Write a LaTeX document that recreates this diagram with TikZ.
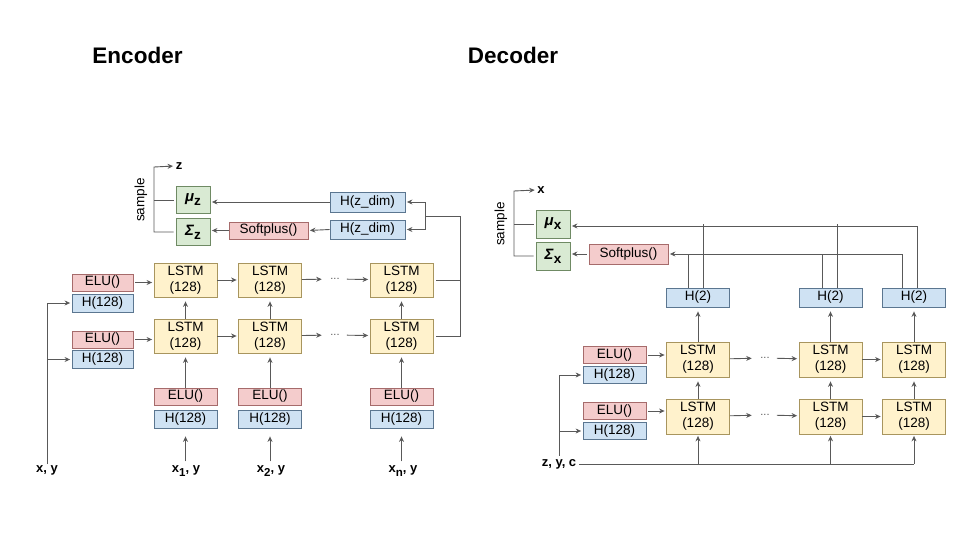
\documentclass[tikz,border=0pt]{standalone}
\usepackage{fontspec}
\setmainfont{Liberation Sans}
\usetikzlibrary{arrows.meta}
\usetikzlibrary{calc}

\definecolor{eluFill}{HTML}{F4CCCC}
\definecolor{eluLine}{HTML}{A66B6B}
\definecolor{hidFill}{HTML}{CFE2F3}
\definecolor{hidLine}{HTML}{5B7690}
\definecolor{lstmFill}{HTML}{FFF2CC}
\definecolor{lstmLine}{HTML}{A8955E}
\definecolor{gaussFill}{HTML}{D9EAD3}
\definecolor{gaussLine}{HTML}{6F8A64}
\definecolor{wireGray}{HTML}{595959}

\tikzset{
    box/.style={draw, line width=0.8pt, inner sep=0pt, align=center,
        font=\fontsize{13.5}{16}\selectfont},
    elu/.style={box, fill=eluFill, draw=eluLine, minimum height=17pt},
    hid/.style={box, fill=hidFill, draw=hidLine, minimum height=18pt},
    lstm/.style={box, fill=lstmFill, draw=lstmLine, minimum width=63pt, minimum height=34pt},
    gauss/.style={box, fill=gaussFill, draw=gaussLine, minimum width=34pt, minimum height=27pt},
    wire/.style={draw=wireGray, line width=0.9pt},
    arr/.style={wire, -{Stealth[length=5.5pt,width=5pt]}, shorten >=1.5pt},
    lbl/.style={inner sep=1pt, font=\fontsize{13}{15}\selectfont\bfseries},
    dotsnode/.style={inner xsep=7pt, text=wireGray, font=\fontsize{11}{12}\selectfont},
    title/.style={font=\fontsize{22.5}{26}\selectfont\bfseries},
    smp/.style={rotate=90, font=\fontsize{13.5}{15}\selectfont}
}

\newcommand{\gsym}[2]{{\fontsize{15}{16}\selectfont\textbf{\textit{#1}}}\raisebox{-4pt}{\textbf{#2}}}
\newcommand{\xsub}[1]{\raisebox{-4pt}{\fontsize{11.5}{12}\selectfont #1}}

\begin{document}
\begin{tikzpicture}[x=1pt,y=-1pt]
            \useasboundingbox[fill=white] (0,0) rectangle (960,540);

            \node[title] (enc) at (137.5,55) {Encoder};
            \node[title] (dec) at (513,55) {Decoder};

            \node[gauss] (muz) at (193,200) {\gsym{μ}{z}};
            \node[gauss] (sigz) at (193,232) {\gsym{Σ}{z}};
            \node[elu, minimum width=79pt] (spz) at (268.5,230.5) {Softplus()};
            \node[hid, minimum width=75pt, minimum height=20pt] (hz1) at (367.5,202) {H(z\_dim)};
            \node[hid, minimum width=75pt, minimum height=19pt] (hz2) at (367.5,229.5) {H(z\_dim)};
            \node[lbl] (zlab) at (179,166) {z};
            \node[smp] (smpe) at (141,200) {sample};
            \coordinate (brz) at (154,167);

            \node[elu, minimum width=61pt] (eelu1) at (102.5,282.5) {ELU()};
            \node[hid, minimum width=61pt] (eh1) at (102.5,303) {H(128)};
            \node[elu, minimum width=61pt] (eelu2) at (102.5,339.5) {ELU()};
            \node[hid, minimum width=61pt] (eh2) at (102.5,359.5) {H(128)};

            \node[lstm] (e11) at (185.5,280) {LSTM\\(128)};
            \node[lstm] (e12) at (270,280) {LSTM\\(128)};
            \node[dotsnode] (edt1) at (335,279) {...};
            \node[lstm] (e13) at (401.5,280) {LSTM\\(128)};
            \node[lstm] (e21) at (185.5,336) {LSTM\\(128)};
            \node[lstm] (e22) at (270,336) {LSTM\\(128)};
            \node[dotsnode] (edt2) at (335,335) {...};
            \node[lstm] (e23) at (401.5,336) {LSTM\\(128)};

            \node[elu, minimum width=63pt] (ein1) at (185.5,396.5) {ELU()};
            \node[hid, minimum width=63pt] (eh31) at (185.5,419) {H(128)};
            \node[elu, minimum width=63pt] (ein2) at (270,396.5) {ELU()};
            \node[hid, minimum width=63pt] (eh32) at (270,419) {H(128)};
            \node[elu, minimum width=63pt] (ein3) at (401.5,396.5) {ELU()};
            \node[hid, minimum width=63pt] (eh33) at (401.5,419) {H(128)};

            \node[lbl] (xy) at (47,470) {x, y};
            \node[lbl] (x1) at (186,471) {x\xsub{1}, y};
            \node[lbl] (x2) at (271,471) {x\xsub{2}, y};
            \node[lbl] (xn) at (403,471) {x\xsub{n}, y};

            \coordinate (fbe) at (460,216);
            \coordinate (sple) at (425,216);

            \draw[wire, shorten <=2pt] (muz.west) -- (muz.west -| brz);
            \draw[arr, shorten <=2pt] (sigz.west) -| (brz) -- (zlab.west);
            \draw[arr] (hz1.west) -- (hz1.west -| muz.east);
            \draw[arr] (hz2.west) -- (spz.east);
            \draw[arr] (spz.west) -- (spz.west -| sigz.east);
            \draw[wire, shorten <=3pt] (e13.east) -- (e13.east -| fbe);
            \draw[wire, shorten <=3pt] (e23.east) -| (fbe) -- (sple);
            \draw[arr] (sple) |- (hz1.east);
            \draw[arr] (sple) |- (hz2.east);

            \draw[arr, shorten <=2pt] (eelu1.east) -- (eelu1.east -| e11.west);
            \draw[arr, shorten <=2pt] (eelu2.east) -- (eelu2.east -| e21.west);
            \draw[arr] (xy.north) |- (eh1.west);
            \draw[arr] (xy.north |- eh2.west) -- (eh2.west);

            \draw[arr] (e11) -- (e12);
            \draw[arr] (e12) -- (edt1);
            \draw[arr] (edt1) -- (e13);
            \draw[arr] (e21) -- (e22);
            \draw[arr] (e22) -- (edt2);
            \draw[arr] (edt2) -- (e23);
            \draw[arr, shorten >=4pt] (e21) -- (e11);
            \draw[arr, shorten >=4pt] (e22) -- (e12);
            \draw[arr, shorten >=4pt] (e23) -- (e13);
            \draw[arr, shorten >=4pt] (ein1) -- (e21);
            \draw[arr, shorten >=4pt] (ein2) -- (e22);
            \draw[arr, shorten >=4pt] (ein3) -- (e23);
            \draw[arr, shorten >=8pt, shorten <=3pt] (x1.north -| eh31) -- (eh31.south);
            \draw[arr, shorten >=8pt, shorten <=3pt] (x2.north -| eh32) -- (eh32.south);
            \draw[arr, shorten >=8pt, shorten <=3pt] (xn.north -| eh33) -- (eh33.south);

            \node[gauss, minimum height=28pt] (mux) at (553,224) {\gsym{μ}{x}};
            \node[gauss, minimum height=28pt] (sigx) at (553,256) {\gsym{Σ}{x}};
            \node[elu, minimum width=79pt, minimum height=20pt] (spx) at (628.5,254) {Softplus()};
            \node[lbl] (xlab) at (541,190) {x};
            \node[smp] (smpd) at (501,224) {sample};
            \coordinate (brx) at (514,191);

            \node[hid, minimum width=63pt, minimum height=19pt] (dh21) at (698,297.5) {H(2)};
            \node[hid, minimum width=63pt, minimum height=19pt] (dh22) at (830.5,297.5) {H(2)};
            \node[hid, minimum width=63pt, minimum height=19pt] (dh23) at (914,297.5) {H(2)};

            \node[elu, minimum width=63pt] (delu1) at (614.5,355) {ELU()};
            \node[hid, minimum width=63pt, minimum height=17pt] (dh1) at (614.5,375) {H(128)};
            \node[elu, minimum width=63pt] (delu2) at (614.5,411) {ELU()};
            \node[hid, minimum width=63pt, minimum height=17pt] (dh2) at (614.5,431) {H(128)};

            \node[lstm, minimum height=35pt] (d11) at (698,359.5) {LSTM\\(128)};
            \node[dotsnode] (ddt1) at (765,358) {...};
            \node[lstm, minimum height=35pt] (d12) at (830.5,359.5) {LSTM\\(128)};
            \node[lstm, minimum height=35pt] (d13) at (914,359.5) {LSTM\\(128)};
            \node[lstm, minimum height=35pt] (d21) at (698,416.5) {LSTM\\(128)};
            \node[dotsnode] (ddt2) at (765,415) {...};
            \node[lstm, minimum height=35pt] (d22) at (830.5,416.5) {LSTM\\(128)};
            \node[lstm, minimum height=35pt] (d23) at (914,416.5) {LSTM\\(128)};

            \node[lbl] (zyc) at (559,464) {z, y, c};

            \draw[wire, shorten <=2pt] (mux.west) -- (mux.west -| brx);
            \draw[arr, shorten <=2pt] (sigx.west) -| (brx) -- (xlab.west);
            \draw[arr, shorten <=2pt] (spx.west) -- (spx.west -| sigx.east);
            \draw[arr] ([xshift=3pt]dh23.north) |- ([yshift=-2pt]mux.east);
            \draw[wire] ([xshift=5pt]dh21.north) -- ([xshift=5pt]dh21.north |- mux.east);
            \draw[wire] ([xshift=6.5pt]dh22.north) -- ([xshift=6.5pt]dh22.north |- mux.east);
            \draw[arr] ([xshift=-12pt]dh23.north) |- (spx.east);
            \draw[wire] ([xshift=-10pt]dh21.north) -- ([xshift=-10pt]dh21.north |- spx.east);
            \draw[wire] ([xshift=-8.5pt]dh22.north) -- ([xshift=-8.5pt]dh22.north |- spx.east);

            \draw[arr, shorten >=4pt] (d11) -- (dh21);
            \draw[arr, shorten >=4pt] (d12) -- (dh22);
            \draw[arr, shorten >=4pt] (d13) -- (dh23);

            \draw[arr, shorten <=2pt] (delu1.east) -- (delu1.east -| d11.west);
            \draw[arr, shorten <=2pt] (delu2.east) -- (delu2.east -| d21.west);
            \draw[arr, shorten <=2pt] (zyc.north) |- (dh1.west);
            \draw[arr] (zyc.north |- dh2.west) -- (dh2.west);

            \draw[arr] (d11) -- (ddt1);
            \draw[arr] (ddt1) -- (d12);
            \draw[arr] (d12) -- (d13);
            \draw[arr] (d21) -- (ddt2);
            \draw[arr] (ddt2) -- (d22);
            \draw[arr] (d22) -- (d23);
            \draw[arr, shorten >=4pt] (d21) -- (d11);
            \draw[arr, shorten >=4pt] (d22) -- (d12);
            \draw[arr, shorten >=4pt] (d23) -- (d13);

            \draw[wire, shorten <=2pt] (zyc.east) -- (zyc.east -| d23.south);
            \draw[arr] (zyc.east -| d21.south) -- (d21.south);
            \draw[arr] (zyc.east -| d22.south) -- (d22.south);
            \draw[arr] (zyc.east -| d23.south) -- (d23.south);
\end{tikzpicture}
\end{document}
